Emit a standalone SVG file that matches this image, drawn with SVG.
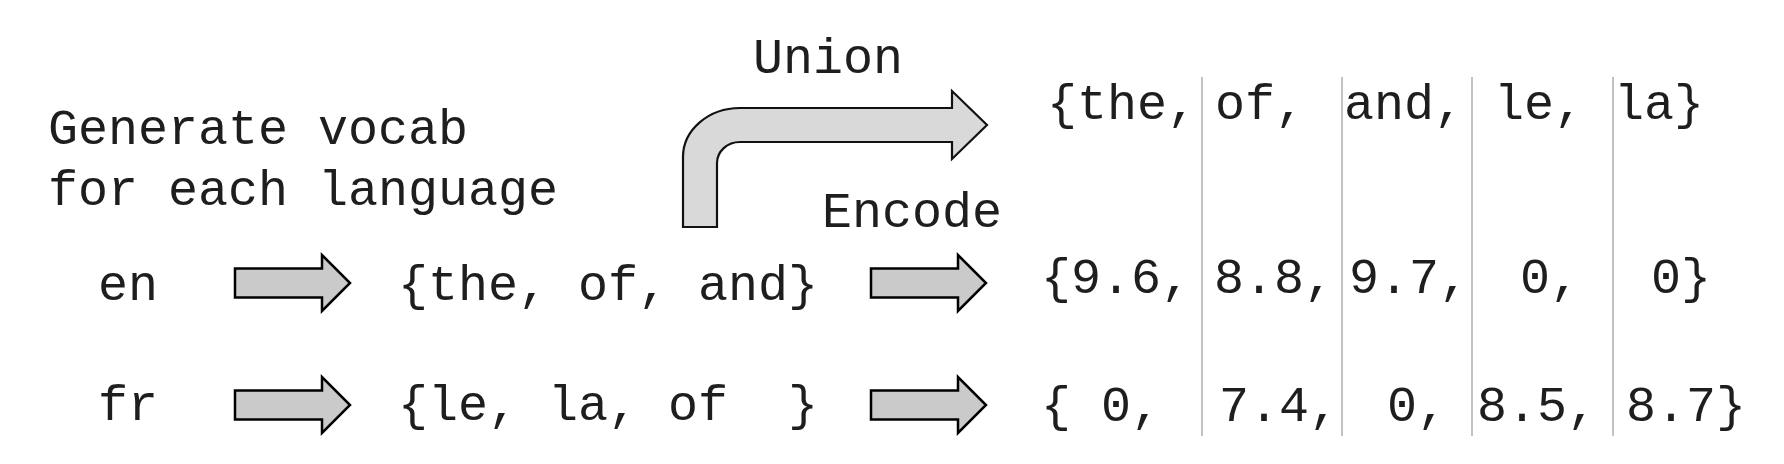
<svg xmlns="http://www.w3.org/2000/svg" width="1784" height="464" viewBox="0 0 1784 464">
<style>
text{font-family:"Liberation Mono","Courier New",monospace;font-size:50px;fill:#1e1e1e;white-space:pre}
.arr{fill:#cacaca;stroke:#000;stroke-width:2.5;stroke-linejoin:miter}
.shadow{fill:none;stroke:#777;stroke-width:1.5}
.union{fill:#d9d9d9;stroke:#111;stroke-width:2.2}
.sep{stroke:#c2c2c2;stroke-width:2}
</style>
<defs>
<path id="rarrow" d="M0,-14.5 H87 V-28 L115,0 L87,28 V14.5 H0 Z"/>
</defs>
<rect width="1784" height="464" fill="#fff"/>
<g id="label-generate">
<text x="48" y="144">Generate vocab</text>
<text x="48" y="205">for each language</text>
</g>
<g id="label-union"><text x="753" y="73">Union</text></g>
<g id="label-encode"><text x="822" y="227">Encode</text></g>
<g id="lang-en"><text x="98" y="300">en</text></g>
<g id="lang-fr"><text x="98" y="420">fr</text></g>
<g id="vocab-en"><text x="398" y="300">{the, of, and}</text></g>
<g id="vocab-fr"><text x="398" y="420">{le, la, of  }</text></g>
<g id="union-table">
<g id="separators">
<line class="sep" x1="1202" y1="77" x2="1202" y2="436"/>
<line class="sep" x1="1342" y1="77" x2="1342" y2="436"/>
<line class="sep" x1="1472" y1="77" x2="1472" y2="436"/>
<line class="sep" x1="1613" y1="77" x2="1613" y2="436"/>
</g>
<g id="row-words">
<text x="1047" y="119">{the,</text>
<text x="1215" y="119">of,</text>
<text x="1344" y="119">and,</text>
<text x="1494" y="119">le,</text>
<text x="1614" y="119">la}</text>
</g>
<g id="row-en">
<text x="1041" y="293">{9.6,</text>
<text x="1214" y="293">8.8,</text>
<text x="1349" y="293">9.7,</text>
<text x="1520" y="293">0,</text>
<text x="1651" y="293">0}</text>
</g>
<g id="row-fr">
<text x="1041" y="421">{ 0,</text>
<text x="1219" y="421">7.4,</text>
<text x="1387" y="421">0,</text>
<text x="1477" y="421">8.5,</text>
<text x="1626" y="421">8.7}</text>
</g>
</g>
<g id="connectors">
<path class="union" d="M683,227 V157 A57,49 0 0 1 740,108 H952 V91 L987,125 L952,159 V142 H740 A23,21 0 0 0 717,163 V227 Z"/>
<use href="#rarrow" class="arr" x="235" y="283"/>
<use href="#rarrow" class="arr" x="235" y="405"/>
<use href="#rarrow" class="arr" x="871" y="283"/>
<use href="#rarrow" class="arr" x="871" y="405"/>
</g>
</svg>
